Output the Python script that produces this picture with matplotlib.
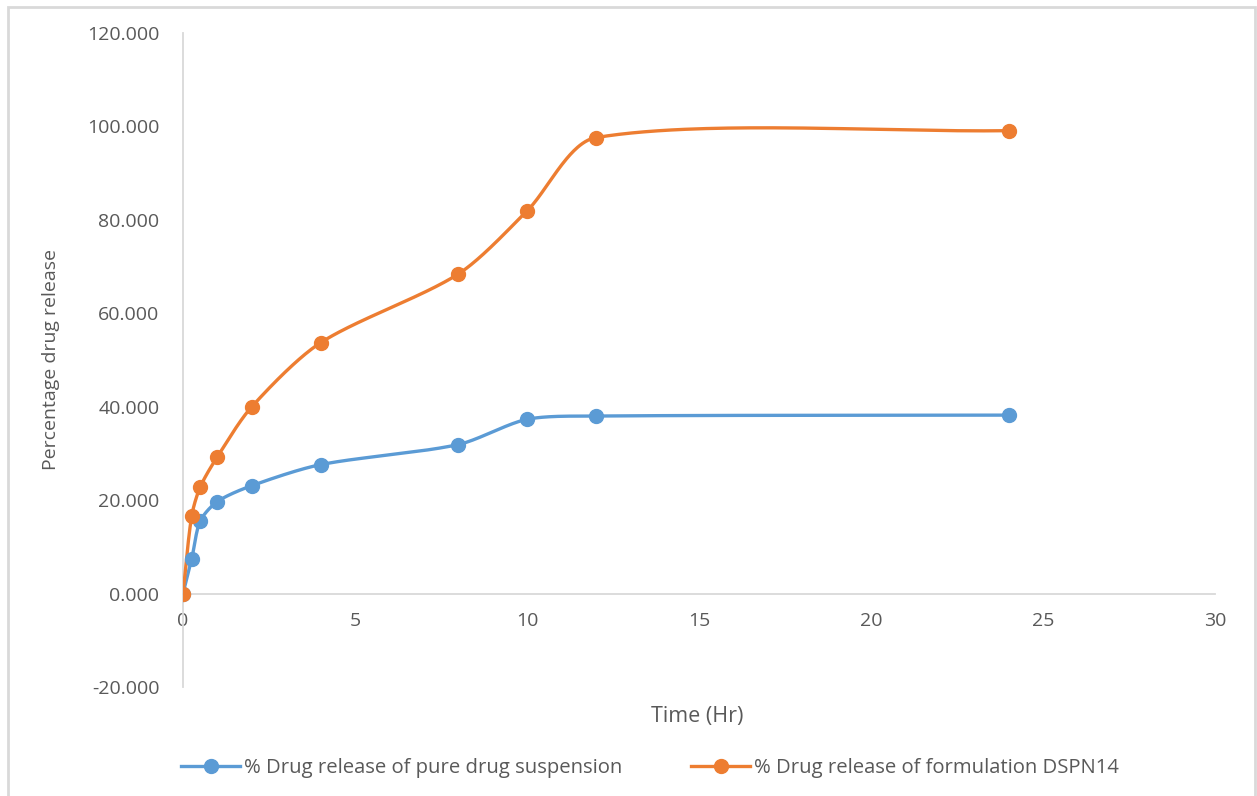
import numpy as np
import matplotlib
matplotlib.use("Agg")
import matplotlib.pyplot as plt
from matplotlib.patches import Rectangle

time_hr = [0, 0.25, 0.5, 1, 2, 4, 8, 10, 12, 24]
pure_suspension = [0.0, 7.3, 15.5, 19.7, 23.1, 27.6, 31.9, 37.3, 38.0, 38.2]
dspn14 = [0.0, 16.5, 22.8, 29.3, 40.0, 53.7, 68.4, 81.9, 97.6, 99.1]
y_ticks = [-20, 0, 20, 40, 60, 80, 100, 120]
x_ticks = [0, 5, 10, 15, 20, 25, 30]
label_pure = "% Drug release of pure drug suspension"
label_dspn = "% Drug release of formulation DSPN14"

BLUE = "#5B9BD5"
ORANGE = "#ED7D31"
TXT = "#595959"
GRID = "#D9D9D9"

plt.rcParams['font.family'] = ['Open Sans', 'DejaVu Sans']

W, H = 1257, 796
fig = plt.figure(figsize=(W / 100, H / 100), dpi=100)
ax = fig.add_axes([183 / W, 1 - 687 / H, (1215 - 183) / W, (687 - 33) / H])
ax.set_xlim(0, 30)
ax.set_ylim(-20, 120)


def smooth(x, y, n=60, k=0.85):
    # Bezier smoothing done in display space, tangents scaled by chord lengths
    pts = ax.transData.transform(np.column_stack([x, y]))
    Pe = np.vstack([pts[0], pts, pts[-1]])
    d = np.linalg.norm(np.diff(Pe, axis=0), axis=1)
    out = []
    t = np.linspace(0, 1, n)[:, None]
    for i in range(len(pts) - 1):
        p0, p1, p2, p3 = Pe[i], Pe[i + 1], Pe[i + 2], Pe[i + 3]
        d0, d1, d2 = d[i], d[i + 1], d[i + 2]
        f1 = d1 / (d0 + d1) if d0 + d1 > 0 else 0.5
        f2 = d1 / (d1 + d2) if d1 + d2 > 0 else 0.5
        c1 = p1 + (p2 - p0) * f1 * k / 3.0
        c2 = p2 - (p3 - p1) * f2 * k / 3.0
        seg = ((1 - t) ** 3) * p1 + 3 * ((1 - t) ** 2) * t * c1 + 3 * (1 - t) * t ** 2 * c2 + t ** 3 * p2
        out.append(seg if i == 0 else seg[1:])
    s = ax.transData.inverted().transform(np.vstack(out))
    return s[:, 0], s[:, 1]


for xs, ys, c, lab in [(time_hr, pure_suspension, BLUE, label_pure),
                       (time_hr, dspn14, ORANGE, label_dspn)]:
    sx, sy = smooth(xs, ys)
    ax.plot(sx, sy, color=c, lw=2.4, solid_capstyle='round', zorder=3)
    ax.plot(xs, ys, linestyle='none', marker='o', ms=10, color=c, zorder=4)
    ax.plot([], [], color=c, lw=2.4, marker='o', ms=10, label=lab)

ax.set_xticks(x_ticks)
ax.set_xticklabels([str(v) for v in x_ticks])
ax.set_yticks(y_ticks)
ax.set_yticklabels([f"{v:.3f}" for v in y_ticks])

for s in ['top', 'right']:
    ax.spines[s].set_visible(False)
ax.spines['bottom'].set_position(('data', 0))
ax.spines['bottom'].set_color(GRID)
ax.spines['left'].set_color(GRID)
ax.spines['bottom'].set_linewidth(1.3)
ax.spines['left'].set_linewidth(1.3)
ax.tick_params(axis='both', length=0, labelsize=14, labelcolor=TXT)
ax.tick_params(axis='x', pad=13)
ax.tick_params(axis='y', pad=17)

ax.set_xlabel("Time (Hr)", fontsize=15.5, color=TXT)
ax.xaxis.set_label_coords((697 - 183) / 1032, (687 - 706) / 654)
ax.set_ylabel("Percentage drug release", fontsize=14, color=TXT)
ax.yaxis.set_label_coords((60 - 183) / 1032, 0.5 - (360 - 360) / 654)

leg = fig.legend(loc='center', bbox_to_anchor=(650 / W, 1 - 768 / H), ncol=2,
                 frameon=False, fontsize=14.6, handlelength=2.9, columnspacing=3.4,
                 handletextpad=0.2, labelcolor=TXT)

fig.add_artist(Rectangle((8 / W, -0.01), (1255 - 8) / W, 1 - 7 / H + 0.01,
                         transform=fig.transFigure, fill=False, edgecolor=GRID, lw=2))

fig.savefig("out.png", dpi=100)
